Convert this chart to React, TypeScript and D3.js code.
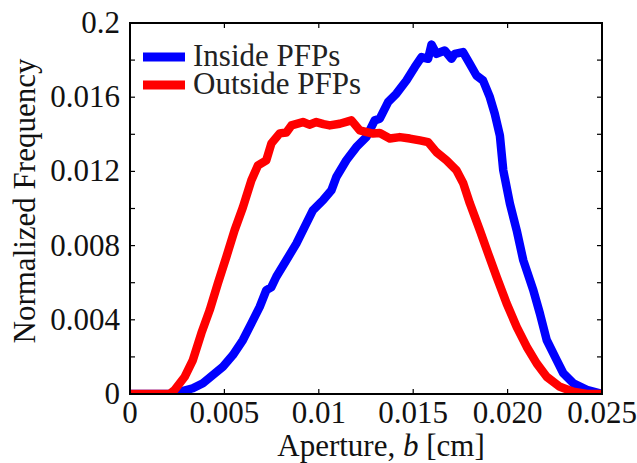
import React from "react";
import * as d3 from "d3";

const xTicks = [0, 0.005, 0.01, 0.015, 0.02, 0.025];
const xTickLabels = ["0", "0.005", "0.01", "0.015", "0.020", "0.025"];
const yTicks = [0, 0.004, 0.008, 0.012, 0.016, 0.02];
const yTickLabels = ["0", "0.004", "0.008", "0.012", "0.016", "0.2"];
const yMinorTicks = [0.002, 0.004, 0.006, 0.008, 0.01, 0.012, 0.014, 0.016, 0.018];

const seriesNames = ["Inside PFPs", "Outside PFPs"];
const seriesColors = ["#0000ff", "#ff0000"];

// Inside PFPs: [aperture (cm), normalized frequency]
const insideX = [0, 0.00236, 0.00262, 0.00333, 0.00386, 0.00439, 0.00492, 0.00545, 0.00598, 0.00643, 0.00687, 0.00722, 0.00748, 0.00775, 0.00828, 0.00881, 0.00925, 0.00969, 0.01022, 0.01067, 0.01093, 0.01146, 0.01199, 0.01252, 0.01296, 0.01323, 0.01367, 0.01411, 0.01464, 0.01508, 0.01544, 0.01579, 0.01597, 0.01623, 0.01667, 0.01703, 0.0172, 0.01764, 0.018, 0.01835, 0.0187, 0.01906, 0.01932, 0.01959, 0.01977, 0.02012, 0.02048, 0.02083, 0.02136, 0.02171, 0.02207, 0.0226, 0.02295, 0.02348, 0.02419, 0.02489, 0.025];
const insideY = [0, 0, 0.00011, 0.00031, 0.00058, 0.00102, 0.00147, 0.0021, 0.00291, 0.00381, 0.0047, 0.0056, 0.00575, 0.00632, 0.00721, 0.00811, 0.00901, 0.00991, 0.01044, 0.01098, 0.0117, 0.0126, 0.01331, 0.01385, 0.01475, 0.01484, 0.01574, 0.01619, 0.0169, 0.01762, 0.01816, 0.01807, 0.01884, 0.01834, 0.01852, 0.01807, 0.01834, 0.01843, 0.0178, 0.01717, 0.0169, 0.016, 0.01511, 0.01394, 0.01206, 0.01027, 0.00883, 0.00721, 0.0056, 0.00434, 0.00291, 0.00183, 0.00112, 0.00058, 0.00022, 0.00003, 0];

// Outside PFPs
const outsideX = [0, 0.00209, 0.00236, 0.00289, 0.00333, 0.00378, 0.00422, 0.00466, 0.0051, 0.00554, 0.00598, 0.00643, 0.00678, 0.00722, 0.00749, 0.00793, 0.00828, 0.00855, 0.00916, 0.0095, 0.00987, 0.01025, 0.01058, 0.01111, 0.01173, 0.01217, 0.01287, 0.01323, 0.01376, 0.01429, 0.01482, 0.01535, 0.01579, 0.01623, 0.01676, 0.01729, 0.01765, 0.018, 0.01853, 0.01897, 0.01942, 0.01995, 0.02048, 0.02101, 0.02154, 0.02207, 0.02277, 0.02348, 0.02419, 0.025];
const outsideY = [0, 0, 0.000215, 0.000915, 0.00183, 0.00328, 0.00452, 0.00598, 0.00738, 0.00883, 0.01007, 0.01152, 0.01233, 0.0126, 0.01351, 0.01405, 0.0141, 0.01448, 0.01466, 0.01452, 0.01466, 0.01455, 0.01448, 0.01457, 0.01475, 0.01421, 0.01404, 0.01407, 0.01377, 0.01385, 0.01377, 0.01367, 0.01358, 0.01304, 0.0126, 0.01206, 0.01136, 0.01028, 0.00883, 0.00757, 0.00631, 0.00488, 0.00362, 0.00255, 0.00165, 0.00093, 0.00039, 0.00012, 0, 0];

const W = 637;
const H = 463;
const L = 130, R = 602, T = 23, B = 394;
const FONT = "'Liberation Serif', 'Times New Roman', serif";

export default function App() {
  const x = d3.scaleLinear().domain([0, 0.025]).range([L, R]);
  const y = d3.scaleLinear().domain([0, 0.02]).range([B, T]);
  const line = d3
    .line<[number, number]>()
    .x((d) => x(d[0]))
    .y((d) => y(d[1]));
  const inside = insideX.map((v, i) => [v, insideY[i]] as [number, number]);
  const outside = outsideX.map((v, i) => [v, outsideY[i]] as [number, number]);
  const series = [inside, outside];
  const tl = 5;

  return (
    <svg
      width={W}
      height={H}
      style={{ position: "absolute", left: 0, top: 0, background: "#fff" }}
      fontFamily={FONT}
    >
      <defs>
        <clipPath id="plotclip">
          <rect x={L} y={T} width={R - L} height={B - T} />
        </clipPath>
      </defs>
      <rect x={0} y={0} width={W} height={H} fill="#fff" />
      <g clipPath="url(#plotclip)">
        {series.map((s, i) => (
          <path
            key={i}
            d={line(s) || ""}
            fill="none"
            stroke={seriesColors[i]}
            strokeWidth={8.5}
            strokeLinejoin="round"
            strokeLinecap="round"
          />
        ))}
      </g>
      {/* ticks */}
      <g stroke="#000" strokeWidth={1.2}>
        {yMinorTicks.map((t, i) => (
          <g key={"y" + i}>
            <line x1={L} x2={L + tl} y1={y(t)} y2={y(t)} />
            <line x1={R} x2={R - tl} y1={y(t)} y2={y(t)} />
          </g>
        ))}
        {xTicks.slice(1, -1).map((t, i) => (
          <g key={"x" + i}>
            <line x1={x(t)} x2={x(t)} y1={B} y2={B - tl} />
            <line x1={x(t)} x2={x(t)} y1={T} y2={T + tl} />
          </g>
        ))}
      </g>
      <rect x={L} y={T} width={R - L} height={B - T} fill="none" stroke="#000" strokeWidth={2} />
      {/* tick labels */}
      <g fontSize={31} fill="#111">
        {yTicks.map((t, i) => (
          <text key={"yl" + i} x={L - 10} y={y(t) + 10} textAnchor="end">
            {yTickLabels[i]}
          </text>
        ))}
        {xTicks.map((t, i) => (
          <text key={"xl" + i} x={x(t)} y={423} textAnchor="middle">
            {xTickLabels[i]}
          </text>
        ))}
        <text x={381} y={456} textAnchor="middle">
          Aperture, <tspan fontStyle="italic">b</tspan> [cm]
        </text>
        <text transform={`translate(35,201) rotate(-90)`} textAnchor="middle">
          Normalized Frequency
        </text>
      </g>
      {/* legend */}
      <g fontSize={31} fill="#222">
        {seriesNames.map((n, i) => (
          <g key={"lg" + i}>
            <line
              x1={143}
              x2={185}
              y1={57 + i * 28}
              y2={57 + i * 28}
              stroke={seriesColors[i]}
              strokeWidth={9}
            />
            <text x={193} y={66 + i * 28}>
              {n}
            </text>
          </g>
        ))}
      </g>
    </svg>
  );
}
